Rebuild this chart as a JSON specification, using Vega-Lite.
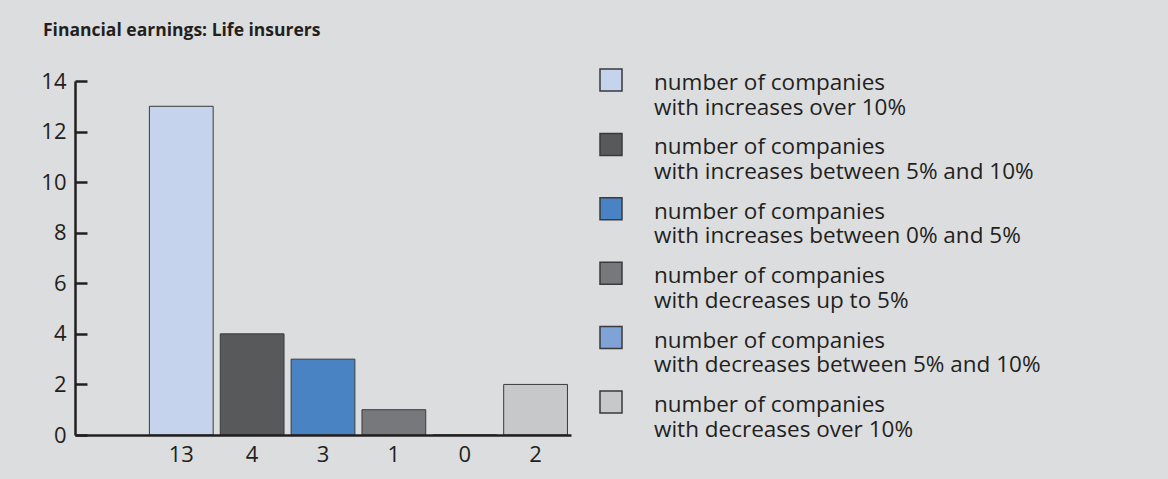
{
  "$schema": "https://vega.github.io/schema/vega-lite/v6.json",
  "width": 496,
  "height": 354,
  "autosize": {"type": "none"},
  "padding": {"left": 75, "top": 81, "right": 597, "bottom": 44},
  "background": "#dcdddf",
  "title": {
    "text": "Financial earnings: Life insurers",
    "anchor": "start",
    "frame": "group",
    "font": "Open Sans",
    "fontSize": 17.5,
    "fontWeight": "bold",
    "color": "#231f20",
    "baseline": "alphabetic",
    "dx": -32,
    "offset": 15
  },
  "config": {
    "view": {"stroke": null},
    "font": "Open Sans",
    "axis": {
      "labelFont": "Open Sans",
      "labelColor": "#231f20",
      "domainColor": "#231f20",
      "tickColor": "#231f20"
    },
    "legend": {"padding": 0}
  },
  "data": {
    "values": [
      {"group": "number of companies with increases over 10%", "count": 13},
      {"group": "number of companies with increases between 5% and 10%", "count": 4},
      {"group": "number of companies with increases between 0% and 5%", "count": 3},
      {"group": "number of companies with decreases up to 5%", "count": 1},
      {"group": "number of companies with decreases between 5% and 10%", "count": 0},
      {"group": "number of companies with decreases over 10%", "count": 2}
    ]
  },
  "encoding": {
    "x": {
      "field": "group",
      "type": "nominal",
      "sort": null,
      "scale": {
        "domain": [
          " ",
          "number of companies with increases over 10%",
          "number of companies with increases between 5% and 10%",
          "number of companies with increases between 0% and 5%",
          "number of companies with decreases up to 5%",
          "number of companies with decreases between 5% and 10%",
          "number of companies with decreases over 10%"
        ],
        "paddingInner": 0.1,
        "paddingOuter": 0.05
      },
      "axis": {
        "title": null,
        "labels": false,
        "ticks": false,
        "domainWidth": 2.5,
        "zindex": 1
      }
    }
  },
  "layer": [
    {
      "mark": {"type": "bar", "stroke": "#3a3a3c", "strokeWidth": 1},
      "encoding": {
        "y": {
          "field": "count",
          "type": "quantitative",
          "scale": {"domain": [0, 14]},
          "axis": {
            "title": null,
            "values": [0, 2, 4, 6, 8, 10, 12, 14],
            "grid": false,
            "domainWidth": 2.5,
            "tickWidth": 2.5,
            "tickSize": -12,
            "labelPadding": 21,
            "labelFontSize": 22,
            "zindex": 1
          }
        },
        "color": {
          "field": "group",
          "type": "nominal",
          "sort": null,
          "scale": {
            "domain": [
              "number of companies with increases over 10%",
              "number of companies with increases between 5% and 10%",
              "number of companies with increases between 0% and 5%",
              "number of companies with decreases up to 5%",
              "number of companies with decreases between 5% and 10%",
              "number of companies with decreases over 10%"
            ],
            "range": ["#c5d3ec", "#58595b", "#4a83c4", "#77787b", "#7fa3d7", "#c7c8ca"]
          },
          "legend": {
            "title": null,
            "orient": "none",
            "legendX": 524,
            "legendY": -13,
            "symbolType": "square",
            "symbolSize": 484,
            "symbolOpacity": 1,
            "symbolStrokeColor": "#3a3a3c",
            "symbolStrokeWidth": 1.5,
            "labelExpr": "[substring(datum.label, 0, 19), substring(datum.label, 20)]",
            "labelFont": "Open Sans",
            "labelFontSize": 22.5,
            "labelColor": "#231f20",
            "labelBaseline": "top",
            "labelLimit": 500,
            "labelOffset": 31,
            "rowPadding": 11.4,
            "padding": 0,
            "encoding": {
              "labels": {"dy": {"value": -8}}
            }
          }
        }
      }
    },
    {
      "mark": {
        "type": "text",
        "font": "Open Sans",
        "fontSize": 22,
        "color": "#231f20",
        "baseline": "middle",
        "dy": 20
      },
      "encoding": {
        "y": {"datum": 0, "type": "quantitative"},
        "text": {"field": "count", "type": "quantitative"}
      }
    }
  ]
}
